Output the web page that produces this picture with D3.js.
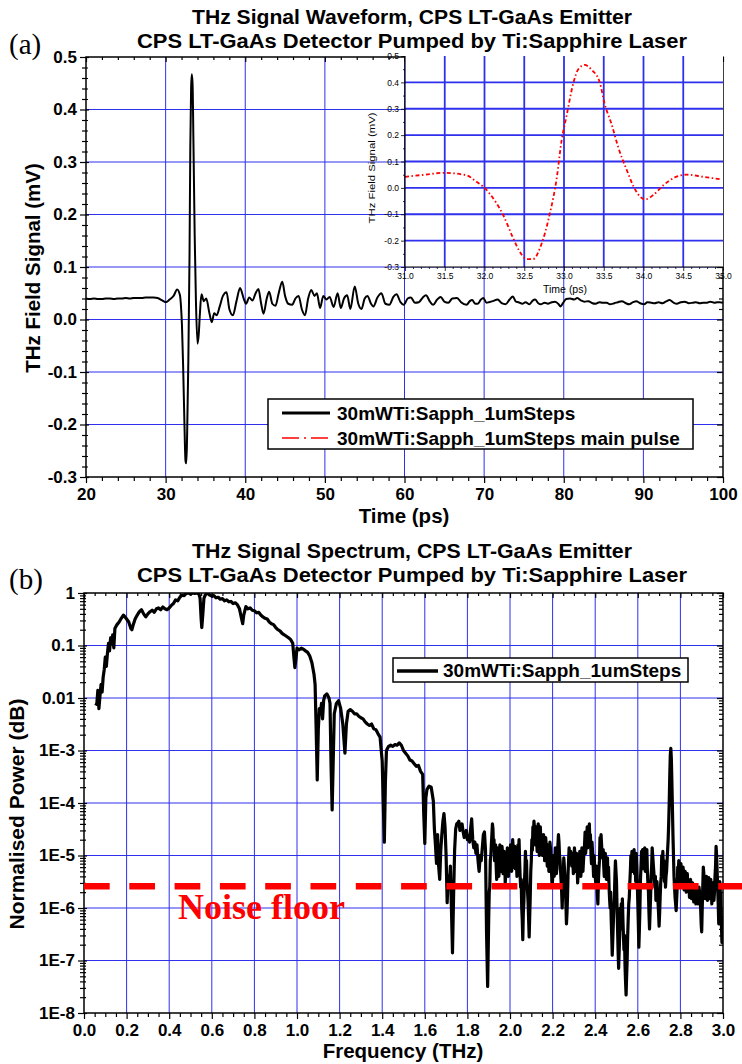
<!DOCTYPE html>
<html>
<head>
<meta charset="utf-8">
<script src="https://cdn.jsdelivr.net/npm/d3@7"></script>
<style>
  html, body { margin: 0; padding: 0; background: #fff; }
  svg { display: block; }
  text { font-family: "Liberation Sans", Arial, sans-serif; }
</style>
</head>
<body>
<svg id="chart" width="742" height="1064"></svg>
<script>
// ---------- Panel (a): time-domain waveform ----------
const waveTime = [
  20.0, 20.5, 21.0, 21.5, 22.0, 22.5, 23.0, 23.5, 24.0, 24.5, 25.0, 25.5, 26.0, 26.5, 27.0, 27.5,
  28.0, 28.5, 29.0, 29.5, 30.0, 30.5, 31.0, 31.45, 31.8, 31.95, 32.05, 32.2, 32.35, 32.5, 32.6,
  32.7, 32.85, 33.0, 33.1, 33.2, 33.28, 33.38, 33.5, 33.65, 33.8, 34.0, 34.15, 34.3, 34.5, 34.8,
  35.1, 35.5, 35.8, 36.1, 36.4, 36.8, 37.2, 37.65, 38.0, 38.45, 38.9, 39.35, 39.8, 40.1, 40.5,
  40.9, 41.3, 41.65, 42.0, 42.3, 42.7, 43.0, 43.4, 43.8, 44.2, 44.65, 45.0, 45.4, 45.9, 46.3,
  46.7, 47.1, 47.5, 47.9, 48.3, 48.7, 49.0, 49.4, 49.8, 50.2, 50.6, 51.1, 51.6, 52.0, 52.4,
  52.8, 53.2, 53.75, 54.2, 54.6, 55.0, 55.35, 55.8, 56.1, 56.6, 57.1, 57.6, 58.1, 58.6, 59.0,
  59.5, 59.9, 60.4, 60.8, 61.3, 61.8, 62.3, 62.7, 63.2, 63.6, 64.1, 64.55, 65.0, 65.5, 66.0,
  66.6, 67.1, 67.8, 68.2, 68.5, 68.9, 69.2, 69.6, 69.9, 70.3, 70.6, 71.1, 71.7, 72.2, 72.7,
  73.2, 73.6, 74.0, 74.3, 74.8, 75.2, 75.7, 76.1, 76.4, 76.8, 77.1, 77.6, 78.0, 78.5, 78.9,
  79.3, 79.6, 79.9, 80.3, 80.8, 81.3, 81.7, 82.2, 82.6, 83.1, 83.6, 84.0, 84.5, 84.9, 85.4,
  85.8, 86.35, 86.8, 87.3, 87.8, 88.2, 88.7, 89.1, 89.6, 90.1, 90.5, 91.0, 91.4, 91.9, 92.4,
  92.8, 93.3, 93.8, 94.2, 94.7, 95.2, 95.7, 96.2, 96.6, 97.1, 97.5, 98.0, 98.4, 98.9, 99.3,
  99.6, 100.0
];
const waveSignal = [
  0.040, 0.039, 0.040, 0.039, 0.039, 0.040, 0.040, 0.039, 0.040, 0.040, 0.041, 0.040, 0.041, 0.041, 0.041, 0.042,
  0.042, 0.042, 0.041, 0.037, 0.033, 0.038, 0.045, 0.057, 0.046, 0.020, -0.010, -0.090, -0.190, -0.270, -0.274,
  -0.220, -0.080, 0.120, 0.330, 0.440, 0.467, 0.450, 0.330, 0.160, 0.040, -0.046, -0.030, 0.010, 0.048, 0.035,
  0.040, 0.012, -0.005, 0.012, 0.008, 0.025, 0.045, 0.052, 0.020, 0.008, 0.035, 0.060, 0.040, 0.030, 0.042,
  0.036, 0.050, 0.058, 0.030, 0.011, 0.040, 0.053, 0.030, 0.026, 0.050, 0.072, 0.045, 0.030, 0.028, 0.040,
  0.045, 0.020, 0.008, 0.040, 0.056, 0.045, 0.050, 0.022, 0.045, 0.038, 0.043, 0.024, 0.050, 0.022, 0.040,
  0.046, 0.020, 0.063, 0.030, 0.020, 0.040, 0.045, 0.030, 0.025, 0.042, 0.050, 0.030, 0.028, 0.043, 0.048,
  0.033, 0.028, 0.040, 0.042, 0.032, 0.033, 0.042, 0.046, 0.034, 0.028, 0.038, 0.043, 0.034, 0.032, 0.040,
  0.041, 0.033, 0.028, 0.035, 0.037, 0.030, 0.030, 0.038, 0.041, 0.032, 0.033, 0.035, 0.038, 0.031, 0.029,
  0.038, 0.044, 0.034, 0.033, 0.030, 0.033, 0.029, 0.036, 0.038, 0.031, 0.029, 0.032, 0.030, 0.033, 0.034,
  0.030, 0.025, 0.031, 0.039, 0.040, 0.038, 0.041, 0.036, 0.034, 0.035, 0.031, 0.030, 0.033, 0.032, 0.032,
  0.029, 0.031, 0.033, 0.035, 0.031, 0.029, 0.033, 0.035, 0.031, 0.029, 0.033, 0.032, 0.031, 0.033, 0.031,
  0.034, 0.037, 0.032, 0.030, 0.033, 0.034, 0.031, 0.032, 0.033, 0.031, 0.032, 0.032, 0.034, 0.032, 0.033,
  0.033, 0.032
];

// main pulse, shown in the inset
const pulseTime = [
  31.0, 31.25, 31.48, 31.77, 31.9, 32.0, 32.06, 32.23, 32.36, 32.44, 32.53, 32.61, 32.72, 32.82,
  32.91, 32.97, 33.03, 33.12, 33.18, 33.26, 33.35, 33.45, 33.51, 33.6, 33.68, 33.79, 33.9, 34.02,
  34.12, 34.25, 34.41, 34.54, 34.75, 34.98
];
const pulseSignal = [
  0.042, 0.050, 0.057, 0.048, 0.023, 0.000, -0.020, -0.100, -0.190, -0.240, -0.270, -0.270, -0.210, -0.100,
  0.040, 0.180, 0.270, 0.400, 0.450, 0.466, 0.447, 0.400, 0.320, 0.240, 0.156, 0.067, -0.009, -0.044,
  -0.028, 0.010, 0.042, 0.050, 0.042, 0.032
];

const timeTicks = [20, 30, 40, 50, 60, 70, 80, 90, 100];
const signalTicks = [-0.3, -0.2, -0.1, 0.0, 0.1, 0.2, 0.3, 0.4, 0.5];
const pulseTimeTicks = [31.0, 31.5, 32.0, 32.5, 33.0, 33.5, 34.0, 34.5, 35.0];
const legendA = ["30mWTi:Sapph_1umSteps", "30mWTi:Sapph_1umSteps main pulse"];
const titleA = ["THz Signal Waveform, CPS LT-GaAs Emitter", "CPS LT-GaAs Detector Pumped by Ti:Sapphire Laser"];

// ---------- Panel (b): normalised power spectrum ----------
const freq = [
  0.052, 0.06, 0.065, 0.07, 0.075, 0.08, 0.085, 0.09,
  0.095, 0.1, 0.105, 0.11, 0.115, 0.12, 0.125, 0.13,
  0.135, 0.14, 0.145, 0.155, 0.165, 0.175, 0.185, 0.195,
  0.2, 0.21, 0.22, 0.225, 0.23, 0.24, 0.25, 0.26,
  0.27, 0.28, 0.29, 0.3, 0.31, 0.32, 0.33, 0.34,
  0.35, 0.36, 0.37, 0.38, 0.39, 0.4, 0.41, 0.42,
  0.43, 0.44, 0.45, 0.46, 0.47, 0.48, 0.49, 0.5,
  0.51, 0.52, 0.53, 0.54, 0.545, 0.55, 0.553, 0.558,
  0.563, 0.57, 0.58, 0.59, 0.6, 0.61, 0.62, 0.63,
  0.64, 0.65, 0.66, 0.67, 0.68, 0.69, 0.7, 0.71,
  0.72, 0.73, 0.74, 0.745, 0.75, 0.76, 0.77, 0.78,
  0.79, 0.8, 0.81, 0.82, 0.83, 0.84, 0.85, 0.86,
  0.87, 0.88, 0.89, 0.9, 0.91, 0.92, 0.93, 0.94,
  0.95, 0.96, 0.97, 0.98, 0.985, 0.99, 0.995, 1.0,
  1.01, 1.02, 1.03, 1.04, 1.05, 1.06, 1.07, 1.08,
  1.085, 1.09, 1.095, 1.1, 1.105, 1.11, 1.115, 1.12,
  1.125, 1.13, 1.14, 1.15, 1.155, 1.16, 1.165, 1.17,
  1.175, 1.185, 1.195, 1.205, 1.215, 1.225, 1.232, 1.24,
  1.25, 1.26, 1.27, 1.28, 1.29, 1.3, 1.31, 1.32,
  1.33, 1.34, 1.35, 1.36, 1.37, 1.38, 1.39, 1.4,
  1.405, 1.41, 1.415, 1.42, 1.43, 1.44, 1.45, 1.46,
  1.47, 1.48, 1.49, 1.5, 1.51, 1.52, 1.53, 1.54,
  1.55, 1.56, 1.57, 1.58, 1.59, 1.595, 1.6, 1.605,
  1.61, 1.62, 1.63, 1.64, 1.645, 1.65, 1.655, 1.66,
  1.665, 1.67, 1.675, 1.68, 1.685, 1.69, 1.695, 1.7,
  1.705, 1.71, 1.715, 1.72, 1.725, 1.73, 1.735, 1.74,
  1.745, 1.75, 1.755, 1.76, 1.765, 1.77, 1.775, 1.78,
  1.785, 1.79, 1.795, 1.8, 1.805, 1.81, 1.815, 1.82,
  1.825, 1.83, 1.835, 1.84, 1.845, 1.85, 1.855, 1.86,
  1.865, 1.87, 1.875, 1.88, 1.885, 1.89, 1.895,
  1.9, 1.9025, 1.905, 1.9075, 1.91, 1.9125, 1.915, 1.9175,
  1.92, 1.9225, 1.925, 1.9275, 1.93, 1.9325, 1.935, 1.9375,
  1.94, 1.9425, 1.945, 1.9475, 1.95, 1.9525, 1.955, 1.9575,
  1.96, 1.9625, 1.965, 1.9675, 1.97, 1.9725, 1.975, 1.9775,
  1.98, 1.9825, 1.985, 1.9875, 1.99, 1.9925, 1.995, 1.9975,
  2.0, 2.0025, 2.005, 2.0075, 2.01, 2.0125, 2.015, 2.0175,
  2.02, 2.0225, 2.025, 2.0275, 2.03, 2.0325, 2.035, 2.0375,
  2.04, 2.0425, 2.045, 2.0475, 2.05, 2.0525, 2.055, 2.0575,
  2.06, 2.0625, 2.065, 2.0675, 2.07, 2.0725, 2.075, 2.0775,
  2.08, 2.0825, 2.085, 2.0875, 2.09, 2.0925, 2.095, 2.0975,
  2.1, 2.1025, 2.105, 2.1075, 2.11, 2.1125, 2.115, 2.1175,
  2.12, 2.1225, 2.125, 2.1275, 2.13, 2.1325, 2.135, 2.1375,
  2.14, 2.1425, 2.145, 2.1475, 2.15, 2.1525, 2.155, 2.1575,
  2.16, 2.1625, 2.165, 2.1675, 2.17, 2.1725, 2.175, 2.1775,
  2.18, 2.1825, 2.185, 2.1875, 2.19, 2.1925, 2.195, 2.1975,
  2.2, 2.2025, 2.205, 2.2075, 2.21, 2.2125, 2.215, 2.2175,
  2.22, 2.2225, 2.225, 2.2275, 2.23, 2.2325, 2.235, 2.2375,
  2.24, 2.2425, 2.245, 2.2475, 2.25, 2.2525, 2.255, 2.2575,
  2.26, 2.2625, 2.265, 2.2675, 2.27, 2.2725, 2.275, 2.2775,
  2.28, 2.285, 2.29, 2.2925, 2.295, 2.2975, 2.3, 2.3025,
  2.305, 2.3075, 2.31, 2.3125, 2.315, 2.3175, 2.32, 2.3225,
  2.325, 2.3275, 2.33, 2.3325, 2.335, 2.3375, 2.34, 2.3425,
  2.345, 2.3475, 2.35, 2.3525, 2.355, 2.3575, 2.36, 2.3625,
  2.365, 2.3675, 2.37, 2.3725, 2.375, 2.3775, 2.38, 2.3825,
  2.385, 2.3875, 2.39, 2.3925, 2.395, 2.3975, 2.4, 2.4025,
  2.405, 2.4075, 2.41, 2.4125, 2.415, 2.4175, 2.42, 2.4225,
  2.425, 2.4275, 2.43, 2.4325, 2.435, 2.4375, 2.44, 2.4425,
  2.445, 2.4475, 2.45, 2.4525, 2.455, 2.4575, 2.46, 2.4625,
  2.465, 2.4675, 2.47, 2.4725, 2.475, 2.4775, 2.48, 2.4825,
  2.485, 2.4875, 2.49, 2.4925, 2.495, 2.4975, 2.5, 2.5025,
  2.505, 2.5075, 2.51, 2.5125, 2.515, 2.5175, 2.52, 2.5225,
  2.525, 2.5275, 2.53, 2.5325, 2.535, 2.5375, 2.54, 2.5425,
  2.545, 2.5475, 2.55, 2.5525, 2.555, 2.5575, 2.56, 2.5625,
  2.565, 2.5675, 2.57, 2.5725, 2.575, 2.5775, 2.58, 2.5825,
  2.585, 2.5875, 2.59, 2.5925, 2.595, 2.5975, 2.6, 2.6025,
  2.605, 2.6075, 2.61, 2.6125, 2.615, 2.6175, 2.62, 2.6225,
  2.625, 2.6275, 2.63, 2.6325, 2.635, 2.6375, 2.64, 2.6425,
  2.645, 2.6475, 2.65, 2.6525, 2.655, 2.6575, 2.66, 2.6625,
  2.665, 2.6675, 2.67, 2.6725, 2.675, 2.6775, 2.68, 2.6825,
  2.685, 2.6875, 2.69, 2.6925, 2.695, 2.6975, 2.7, 2.7025,
  2.705, 2.7075, 2.71, 2.7125, 2.715, 2.7175, 2.72, 2.7225,
  2.725, 2.7275, 2.73, 2.7325, 2.735, 2.7375, 2.74, 2.7425,
  2.745, 2.7475, 2.75, 2.7525, 2.755, 2.7575, 2.76, 2.7625,
  2.765, 2.7675, 2.77, 2.7725, 2.775, 2.7775, 2.78, 2.7825,
  2.785, 2.7875, 2.79, 2.7925, 2.795, 2.7975, 2.8, 2.8025,
  2.805, 2.8075, 2.81, 2.8125, 2.815, 2.8175, 2.82, 2.8225,
  2.825, 2.8275, 2.83, 2.8325, 2.835, 2.8375, 2.84, 2.8425,
  2.845, 2.8475, 2.85, 2.8525, 2.855, 2.8575, 2.86, 2.8625,
  2.865, 2.8675, 2.87, 2.8725, 2.875, 2.8775, 2.88, 2.8825,
  2.885, 2.8875, 2.89, 2.8925, 2.895, 2.8975, 2.9, 2.9025,
  2.905, 2.9075, 2.91, 2.9125, 2.915, 2.9175, 2.92, 2.9225,
  2.925, 2.9275, 2.93, 2.9325, 2.935, 2.9375, 2.94, 2.9425,
  2.945, 2.9475, 2.95, 2.9525, 2.955, 2.9575, 2.96, 2.9625,
  2.965, 2.9675, 2.97, 2.9725, 2.975, 2.9775, 2.98, 2.9825,
  2.985, 2.9875, 2.99, 2.9925, 2.995, 2.9975, 3.0
];
const power = [
  7.9e-3, 7.6e-3, 1.4e-2, 6.3e-3, 1.1e-2, 1.8e-2, 1.3e-2, 2.5e-2,
  3.5e-2, 6.0e-2, 4.0e-2, 7.1e-2, 0.11, 0.079, 0.14, 0.11,
  0.16, 0.09, 0.21, 0.25, 0.28, 0.33, 0.38, 0.34,
  0.32, 0.28, 0.21, 0.20, 0.24, 0.32, 0.38, 0.44,
  0.48, 0.40, 0.35, 0.40, 0.44, 0.47, 0.43, 0.50,
  0.52, 0.48, 0.54, 0.50, 0.48, 0.52, 0.58, 0.63,
  0.74, 0.71, 0.83, 0.91, 0.89, 0.98, 1.0, 0.95,
  1.0, 0.98, 1.0, 0.95, 0.79, 0.32, 0.22, 0.40,
  0.79, 0.93, 1.0, 0.91, 0.87, 0.89, 0.81, 0.83,
  0.76, 0.78, 0.71, 0.74, 0.68, 0.69, 0.63, 0.65,
  0.60, 0.50, 0.32, 0.26, 0.38, 0.55, 0.50, 0.52,
  0.47, 0.46, 0.42, 0.43, 0.38, 0.35, 0.33, 0.32,
  0.28, 0.26, 0.25, 0.22, 0.20, 0.19, 0.17, 0.16,
  0.15, 0.14, 0.13, 0.11, 0.063, 0.038, 0.056, 0.089,
  0.083, 0.089, 0.085, 0.079, 0.074, 0.063, 0.047, 0.028,
  0.018, 2.5e-3, 2.75e-4, 2.5e-3, 6.3e-3, 5.0e-3, 7.9e-3, 4.0e-3,
  8.9e-3, 0.011, 0.012, 0.010, 7.9e-3, 5.0e-4, 7.4e-5, 6.3e-4,
  5.0e-3, 7.9e-3, 8.9e-3, 6.3e-3, 3.2e-3, 8.9e-4, 3.2e-3, 5.6e-3,
  6.0e-3, 5.6e-3, 5.0e-3, 5.0e-3, 4.5e-3, 4.2e-3, 4.0e-3, 3.5e-3,
  3.2e-3, 3.0e-3, 3.2e-3, 2.6e-3, 2.5e-3, 2.1e-3, 1.8e-3, 6.3e-4,
  1.0e-4, 1.8e-5, 2.5e-4, 1.0e-3, 1.2e-3, 1.26e-3, 1.2e-3, 1.3e-3,
  1.26e-3, 1.4e-3, 1.26e-3, 1.0e-3, 8.9e-4, 7.9e-4, 6.6e-4, 6.3e-4,
  5.6e-4, 5.0e-4, 5.2e-4, 4.0e-4, 3.5e-4, 6.3e-5, 1.7e-5, 1.26e-4,
  1.8e-4, 2.1e-4, 2.0e-4, 1.1e-4, 3.2e-5, 1.6e-5, 7.1e-6, 2.5e-5,
  6.3e-6, 3.5e-6, 1.26e-5, 2.5e-5, 4.5e-5, 6.3e-5, 3.5e-5, 1.0e-5,
  1.26e-6, 4.0e-6, 2.5e-6, 6.3e-6, 1.0e-6, 1.4e-7, 1.6e-6, 1.26e-5,
  3.2e-5, 4.0e-5, 4.2e-5, 4.5e-5, 3.0e-5, 3.5e-5, 4.0e-5, 2.8e-5,
  2.2e-5, 2.5e-5, 3.0e-5, 2.0e-5, 2.4e-5, 1.8e-5, 3.2e-5, 5.0e-5,
  2.0e-5, 1.4e-5, 1.8e-5, 1.1e-5, 1.6e-5, 7.9e-6, 5.0e-6, 1.0e-5,
  8.0e-6, 1.4e-5, 2.5e-5, 2.8e-5, 1.26e-5, 3.2e-7, 3.2e-8,
  6.3e-7, 2.0e-6, 2.5e-6, 8.0e-6, 1.0e-5, 1.6e-5, 2.5e-5, 4.0e-5,
  3.2e-5, 1.4e-5, 2.0e-5, 8.0e-6, 1.0e-5, 1.6e-5, 6.3e-6, 3.5e-6,
  5.0e-6, 1.4e-5, 1.0e-5, 4.0e-6, 5.6e-6, 1.6e-5, 1.1e-5, 5.0e-6,
  7.9e-6, 1.5e-5, 1.1e-5, 4.5e-6, 6.3e-6, 1.2e-5, 8.9e-6, 3.0e-6,
  4.5e-6, 9.0e-6, 6.3e-6, 1.4e-5, 1.0e-5, 4.0e-6, 5.6e-6, 1.2e-5,
  7.9e-6, 1.6e-5, 1.1e-5, 5.0e-6, 6.3e-6, 2.0e-5, 1.4e-5, 6.0e-6,
  8.9e-6, 1.5e-5, 5.6e-6, 1.2e-5, 8.9e-6, 4.0e-6, 6.3e-6, 1.6e-5,
  1.0e-5, 2.0e-5, 7.9e-6, 4.0e-6, 2.5e-6, 3.5e-6, 1.0e-6, 6.0e-7,
  2.5e-7, 8.0e-7, 1.26e-6, 3.0e-6, 5.0e-6, 1.2e-5, 6.3e-6, 8.0e-6,
  3.2e-6, 2.0e-6, 1.26e-6, 6.0e-7, 2.8e-7, 7.0e-7, 1.6e-6, 5.0e-6,
  7.9e-6, 2.0e-5, 1.26e-5, 3.5e-5, 2.5e-5, 4.5e-5, 3.2e-5, 1.6e-5,
  2.5e-5, 3.5e-5, 2.0e-5, 1.2e-5, 2.8e-5, 4.0e-5, 1.8e-5, 1.0e-5,
  2.5e-5, 3.5e-5, 1.6e-5, 2.5e-5, 2.2e-5, 1.0e-5, 1.26e-5, 2.5e-5,
  1.8e-5, 8.0e-6, 1.0e-5, 2.2e-5, 1.6e-5, 9.0e-6, 6.3e-6, 1.6e-5,
  1.26e-5, 5.0e-6, 7.9e-6, 1.8e-5, 1.4e-5, 8.0e-6, 5.0e-6, 2.5e-6,
  3.5e-6, 1.0e-5, 7.9e-6, 4.0e-6, 6.3e-6, 1.4e-5, 1.1e-5, 4.5e-6,
  5.6e-6, 1.2e-5, 1.6e-5, 2.5e-5, 1.8e-5, 1.0e-5, 7.9e-6, 5.0e-6,
  3.2e-6, 2.0e-6, 1.0e-6, 2.2e-6, 4.0e-6, 9.0e-6, 6.3e-6, 4.0e-6,
  2.5e-6, 1.2e-6, 5.0e-7, 8.0e-7, 1.6e-6, 4.5e-6, 7.9e-6, 1.4e-5,
  8.9e-6, 1.2e-5, 6.3e-6, 1.1e-5, 7.9e-6, 4.5e-6, 7.1e-6, 1.4e-5,
  1.0e-5, 6.0e-6, 5.0e-6, 1.1e-5, 7.1e-6, 3.0e-6, 4.5e-6, 9.0e-6,
  6.3e-6, 1.2e-5, 7.9e-6, 4.0e-6, 5.6e-6, 1.4e-5, 1.0e-5, 5.0e-6,
  7.9e-6, 1.2e-5, 1.6e-5, 2.8e-5, 1.1e-5, 1.6e-5, 2.0e-5, 3.5e-5,
  1.4e-5, 2.0e-5, 2.5e-5, 4.0e-5, 1.6e-5, 2.5e-5, 1.1e-5, 7.0e-6,
  1.8e-5, 1.2e-5, 7.1e-6, 4.0e-6, 1.0e-5, 6.0e-6, 4.0e-6, 3.0e-6,
  6.3e-6, 3.5e-6, 1.8e-6, 1.2e-6, 3.2e-6, 5.5e-6, 7.9e-6, 2.2e-5,
  1.4e-5, 2.5e-5, 1.6e-5, 1.0e-5, 8.9e-6, 1.3e-5, 6.3e-6, 4.0e-6,
  7.9e-6, 1.1e-5, 5.0e-6, 3.5e-6, 6.3e-6, 9.0e-6, 4.0e-6, 6.0e-6,
  2.5e-6, 1.5e-6, 1.0e-6, 2.0e-6, 6.3e-7, 3.0e-7, 1.26e-7, 2.5e-7,
  5.0e-7, 1.0e-6, 1.6e-6, 4.0e-6, 7.9e-6, 5.0e-6, 3.2e-6, 1.0e-6,
  4.0e-7, 1.5e-7, 7.1e-8, 1.5e-7, 3.2e-7, 1.0e-6, 6.3e-7, 1.2e-6,
  4.0e-7, 1.5e-6, 6.3e-7, 3.0e-7, 1.6e-7, 3.0e-7, 7.9e-8, 4.0e-8,
  2.2e-8, 5.0e-8, 1.0e-7, 3.0e-7, 6.3e-7, 1.2e-6, 1.6e-6, 3.0e-6,
  5.0e-6, 1.0e-5, 7.1e-6, 1.2e-5, 5.0e-6, 1.0e-5, 7.9e-6, 1.3e-5,
  4.5e-6, 8.0e-6, 3.2e-6, 1.1e-5, 6.3e-6, 3.0e-6, 1.26e-6, 5.0e-7,
  1.8e-7, 4.0e-7, 1.0e-6, 3.5e-6, 6.3e-6, 1.2e-5, 7.9e-6, 1.3e-5,
  5.6e-6, 1.0e-5, 7.9e-6, 1.4e-5, 5.0e-6, 1.1e-5, 8.9e-6, 1.3e-5,
  5.0e-6, 3.0e-6, 2.0e-6, 8.0e-7, 4.0e-7, 8.0e-7, 1.6e-6, 4.0e-6,
  6.3e-6, 1.4e-5, 1.0e-5, 7.0e-6, 5.0e-6, 3.5e-6, 2.5e-6, 4.0e-6,
  1.4e-6, 2.5e-6, 3.2e-6, 2.0e-6, 1.26e-6, 8.0e-7, 4.5e-7, 8.0e-7,
  1.6e-6, 3.0e-6, 4.0e-6, 1.0e-5, 6.3e-6, 1.2e-5, 5.6e-6, 8.0e-6,
  3.2e-6, 5.0e-6, 2.5e-6, 4.0e-6, 5.0e-6, 8.0e-6, 1.26e-5, 2.0e-5,
  4.0e-5, 1.0e-4, 3.2e-4, 8.0e-4, 1.1e-3, 7.0e-4, 2.5e-4, 8.0e-5,
  2.5e-5, 1.0e-5, 4.0e-6, 2.5e-6, 1.6e-6, 1.2e-6, 8.9e-7, 1.5e-6,
  2.5e-6, 6.0e-6, 5.0e-6, 8.0e-6, 5.6e-6, 3.0e-6, 4.0e-6, 7.0e-6,
  5.0e-6, 2.5e-6, 3.2e-6, 6.0e-6, 4.5e-6, 2.2e-6, 2.8e-6, 5.0e-6,
  4.0e-6, 2.0e-6, 3.5e-6, 4.5e-6, 2.2e-6, 3.0e-6, 3.2e-6, 1.6e-6,
  2.0e-6, 3.5e-6, 2.8e-6, 1.5e-6, 1.8e-6, 3.0e-6, 2.5e-6, 1.3e-6,
  1.6e-6, 2.8e-6, 2.0e-6, 1.2e-6, 1.4e-6, 2.5e-6, 1.8e-6, 1.2e-6,
  1.6e-6, 2.5e-6, 2.0e-6, 1.4e-6, 1.0e-6, 5.0e-7, 3.5e-7, 1.0e-6,
  2.5e-6, 6.0e-6, 4.5e-6, 2.5e-6, 3.2e-6, 1.5e-6, 2.0e-6, 4.0e-6,
  2.8e-6, 1.4e-6, 2.0e-6, 3.8e-6, 3.2e-6, 1.5e-6, 1.8e-6, 3.5e-6,
  2.5e-6, 1.2e-6, 1.6e-6, 3.0e-6, 2.5e-6, 1.4e-6, 2.0e-6, 4.0e-6,
  6.3e-6, 1.5e-5, 1.0e-5, 5.0e-6, 2.5e-6, 1.2e-6, 5.0e-7, 1.2e-6,
  3.2e-6, 2.0e-6, 1.0e-6, 5.0e-7, 2.2e-7, 6.0e-7, 2.5e-7
];
const noiseFloor = 2.6e-6;

const freqTicks = [0.0, 0.2, 0.4, 0.6, 0.8, 1.0, 1.2, 1.4, 1.6, 1.8, 2.0, 2.2, 2.4, 2.6, 2.8, 3.0];
const powerTicks = [1e-8, 1e-7, 1e-6, 1e-5, 1e-4, 1e-3, 1e-2, 1e-1, 1];
const powerTickLabels = ["1E-8", "1E-7", "1E-6", "1E-5", "1E-4", "1E-3", "0.01", "0.1", "1"];
const legendB = ["30mWTi:Sapph_1umSteps"];
const titleB = ["THz Signal Spectrum, CPS LT-GaAs Emitter", "CPS LT-GaAs Detector Pumped by Ti:Sapphire Laser"];

// ---------- drawing ----------
const svg = d3.select("#chart");
svg.append("rect").attr("width", 742).attr("height", 1064).attr("fill", "#fff");

const GRID = "#2f2fee";
const TICK_FONT = "bold 17px 'Liberation Sans', Arial, sans-serif";

function styleAxis(sel, font) {
  sel.attr("font-size", null).attr("font-family", null);
  sel.select(".domain").remove();
  sel.selectAll(".tick line").attr("stroke", "#000").attr("stroke-width", 1.2);
  sel.selectAll(".tick text").style("font", font || TICK_FONT).attr("fill", "#000");
}

// frame + ticks on all four sides
function frame(g, x, y, o) {
  const [xl, xr] = x.range();
  const [yb, yt] = y.range();
  g.append("g").attr("transform", `translate(0,${yb})`)
    .call(d3.axisBottom(x).tickValues(o.xMajor).tickSize(6).tickPadding(o.xPad).tickFormat(o.xFmt))
    .call(s => styleAxis(s));
  g.append("g").attr("transform", `translate(0,${yb})`)
    .call(d3.axisBottom(x).tickValues(o.xMinor).tickSize(4).tickFormat(""))
    .call(s => styleAxis(s));
  g.append("g").attr("transform", `translate(0,${yt})`)
    .call(d3.axisBottom(x).tickValues(o.xMajor).tickSize(5).tickFormat(""))
    .call(s => styleAxis(s));
  g.append("g").attr("transform", `translate(0,${yt})`)
    .call(d3.axisBottom(x).tickValues(o.xMinor).tickSize(3).tickFormat(""))
    .call(s => styleAxis(s));
  g.append("g").attr("transform", `translate(${xl},0)`)
    .call(d3.axisLeft(y).tickValues(o.yMajor).tickSize(6).tickPadding(o.yPad).tickFormat(o.yFmt))
    .call(s => styleAxis(s));
  g.append("g").attr("transform", `translate(${xl},0)`)
    .call(d3.axisLeft(y).tickValues(o.yMinor).tickSize(4).tickFormat(""))
    .call(s => styleAxis(s));
  g.append("g").attr("transform", `translate(${xl},0)`)
    .call(d3.axisRight(y).tickValues(o.yMajor).tickSize(3).tickFormat(""))
    .call(s => styleAxis(s));
  g.append("g").attr("transform", `translate(${xl},0)`)
    .call(d3.axisRight(y).tickValues(o.yMinor).tickSize(2).tickFormat(""))
    .call(s => styleAxis(s));
  g.append("g").attr("transform", `translate(${xr},0)`)
    .call(d3.axisLeft(y).tickValues(o.yMajor).tickSize(6).tickFormat(""))
    .call(s => styleAxis(s));
  g.append("g").attr("transform", `translate(${xr},0)`)
    .call(d3.axisLeft(y).tickValues(o.yMinor).tickSize(4).tickFormat(""))
    .call(s => styleAxis(s));
  g.append("rect").attr("x", xl).attr("y", yt).attr("width", xr - xl).attr("height", yb - yt)
    .attr("fill", "none").attr("stroke", "#000").attr("stroke-width", 1.5);
}

function title(lines, y0, widths) {
  lines.forEach((t, i) => {
    svg.append("text").attr("x", 412).attr("y", y0 + i * 24)
      .attr("text-anchor", "middle").attr("textLength", widths[i]).attr("lengthAdjust", "spacingAndGlyphs")
      .style("font", "bold 19.5px 'Liberation Sans', Arial, sans-serif").text(t);
  });
}

// ===== Panel (a) =====
const xA = d3.scaleLinear().domain([20, 100]).range([86, 723]);
const yA = d3.scaleLinear().domain([-0.3, 0.5]).range([477, 57]);
const gA = svg.append("g");

gA.append("g").selectAll("line").data(timeTicks.slice(1, -1)).join("line")
  .attr("x1", d => xA(d)).attr("x2", d => xA(d)).attr("y1", yA(-0.3)).attr("y2", yA(0.5))
  .attr("stroke", GRID).attr("stroke-width", 1);
gA.append("g").selectAll("line").data(signalTicks.slice(1, -1)).join("line")
  .attr("y1", d => yA(d)).attr("y2", d => yA(d)).attr("x1", xA(20)).attr("x2", xA(100))
  .attr("stroke", GRID).attr("stroke-width", 1);

const waveLine = d3.line().x(i => xA(waveTime[i])).y(i => yA(waveSignal[i])).curve(d3.curveMonotoneX);
gA.append("path").attr("d", waveLine(d3.range(waveTime.length)))
  .attr("fill", "none").attr("stroke", "#000").attr("stroke-width", 2).attr("stroke-linejoin", "round");

const minorA = [];
for (let t = 20; t <= 100; t += 2) if (t % 10 !== 0) minorA.push(t);
const minorAy = [];
for (let k = -15; k <= 25; k++) if (k % 5 !== 0) minorAy.push(k * 0.02);

frame(gA, xA, yA, {
  xMajor: timeTicks, xMinor: minorA, xFmt: d => String(d), xPad: 5,
  yMajor: signalTicks, yMinor: minorAy, yFmt: d => d.toFixed(1), yPad: 3
});

// --- inset: main pulse ---
const xI = d3.scaleLinear().domain([31, 35]).range([405, 723]);
const yI = d3.scaleLinear().domain([-0.3, 0.5]).range([267, 56]);
const gI = svg.append("g");
gI.append("rect").attr("x", 405).attr("y", 56).attr("width", 318).attr("height", 211).attr("fill", "#fff");
gI.append("g").selectAll("line").data(pulseTimeTicks.slice(1, -1)).join("line")
  .attr("x1", d => xI(d)).attr("x2", d => xI(d)).attr("y1", yI(-0.3)).attr("y2", yI(0.5))
  .attr("stroke", GRID).attr("stroke-width", 1.8);
gI.append("g").selectAll("line").data(signalTicks.slice(1, -1)).join("line")
  .attr("y1", d => yI(d)).attr("y2", d => yI(d)).attr("x1", xI(31)).attr("x2", xI(35))
  .attr("stroke", GRID).attr("stroke-width", 1.8);
const pulseLine = d3.line().x(i => xI(pulseTime[i])).y(i => yI(pulseSignal[i])).curve(d3.curveMonotoneX);
gI.append("path").attr("d", pulseLine(d3.range(pulseTime.length)))
  .attr("fill", "none").attr("stroke", "#ff0000").attr("stroke-width", 1.8)
  .attr("stroke-dasharray", "4,2.5,1.5,2.5");

const INSET_FONT = "8.5px 'Liberation Sans', Arial, sans-serif";
const insetMinorX = [];
for (let k = 310; k <= 350; k++) if (k % 5 !== 0) insetMinorX.push(k / 10);
const insetMinorY = [];
for (let k = -6; k <= 10; k++) if (k % 2 !== 0) insetMinorY.push(k * 0.05);
gI.append("g").attr("transform", "translate(0,267)")
  .call(d3.axisBottom(xI).tickValues(pulseTimeTicks).tickSize(4).tickPadding(2).tickFormat(d => d.toFixed(1)))
  .call(s => styleAxis(s, INSET_FONT));
gI.append("g").attr("transform", "translate(0,267)")
  .call(d3.axisBottom(xI).tickValues(insetMinorX).tickSize(2).tickFormat(""))
  .call(s => styleAxis(s));
gI.append("g").attr("transform", "translate(405,0)")
  .call(d3.axisLeft(yI).tickValues(signalTicks).tickSize(4).tickPadding(2).tickFormat(d => d.toFixed(1)))
  .call(s => styleAxis(s, INSET_FONT));
gI.append("g").attr("transform", "translate(405,0)")
  .call(d3.axisLeft(yI).tickValues(insetMinorY).tickSize(2).tickFormat(""))
  .call(s => styleAxis(s));
gI.selectAll(".tick line").attr("stroke-width", 0.8);
gI.append("path").attr("d", "M405,56V267H723").attr("fill", "none").attr("stroke", "#000").attr("stroke-width", 1.2);
gI.append("text").attr("transform", "translate(375,168) rotate(-90)").attr("text-anchor", "middle")
  .attr("textLength", 111).attr("lengthAdjust", "spacingAndGlyphs")
  .style("font", "9.5px 'Liberation Sans', Arial, sans-serif").text("THz Field Signal (mV)");
gI.append("text").attr("x", 565).attr("y", 293).attr("text-anchor", "middle")
  .style("font", "10.5px 'Liberation Sans', Arial, sans-serif").text("Time (ps)");

// legend (a)
const legA = svg.append("g");
legA.append("rect").attr("x", 268).attr("y", 399).attr("width", 425).attr("height", 50)
  .attr("fill", "#fff").attr("stroke", "#000").attr("stroke-width", 1.5);
legA.append("line").attr("x1", 282).attr("x2", 330).attr("y1", 413).attr("y2", 413)
  .attr("stroke", "#000").attr("stroke-width", 2.8);
legA.append("line").attr("x1", 282).attr("x2", 330).attr("y1", 438).attr("y2", 438)
  .attr("stroke", "#ff0000").attr("stroke-width", 1.6).attr("stroke-dasharray", "17,5,2,5");
legendA.forEach((t, i) => {
  legA.append("text").attr("x", 337).attr("y", 420 + i * 24.5)
    .style("font", "bold 19px 'Liberation Sans', Arial, sans-serif").text(t);
});

// axis titles (a)
svg.append("text").attr("transform", "translate(40,268) rotate(-90)").attr("text-anchor", "middle")
  .style("font", "bold 20.5px 'Liberation Sans', Arial, sans-serif").text("THz Field Signal (mV)");
svg.append("text").attr("x", 404).attr("y", 523).attr("text-anchor", "middle")
  .style("font", "bold 20.5px 'Liberation Sans', Arial, sans-serif").text("Time (ps)");
title(titleA, 24, [440, 550]);
svg.append("text").attr("x", 9).attr("y", 54)
  .style("font", "29px 'Liberation Serif', 'Times New Roman', serif").text("(a)");

// ===== Panel (b) =====
const xB = d3.scaleLinear().domain([0, 3]).range([84, 723]);
const yB = d3.scaleLog().domain([1e-8, 1]).range([1013, 593]);
const gB = svg.append("g");
gB.append("clipPath").attr("id", "clipB").append("rect")
  .attr("x", 84).attr("y", 593).attr("width", 639).attr("height", 420);

gB.append("g").selectAll("line").data(freqTicks.slice(1, -1)).join("line")
  .attr("x1", d => xB(d)).attr("x2", d => xB(d)).attr("y1", 1013).attr("y2", 593)
  .attr("stroke", GRID).attr("stroke-width", 1);
gB.append("g").selectAll("line").data(powerTicks.slice(1, -1)).join("line")
  .attr("y1", d => yB(d)).attr("y2", d => yB(d)).attr("x1", 84).attr("x2", 723)
  .attr("stroke", GRID).attr("stroke-width", 1);

const specLine = d3.line().x(i => xB(freq[i])).y(i => yB(power[i]));
gB.append("path").attr("d", specLine(d3.range(Math.min(freq.length, power.length)))).attr("clip-path", "url(#clipB)")
  .attr("fill", "none").attr("stroke", "#000").attr("stroke-width", 3.2).attr("stroke-linejoin", "round");

const minorBx = [];
for (let k = 0; k <= 60; k++) if (k % 4 !== 0) minorBx.push(k * 0.05);
const minorBy = [];
for (let e = -8; e < 0; e++) for (let m = 2; m <= 9; m++) minorBy.push(m * Math.pow(10, e));

frame(gB, xB, yB, {
  xMajor: freqTicks, xMinor: minorBx, xFmt: d => d.toFixed(1), xPad: 5,
  yMajor: powerTicks, yMinor: minorBy, yFmt: (d, i) => powerTickLabels[i], yPad: 3
});

// noise floor
svg.append("line").attr("x1", xB(0)).attr("x2", 742).attr("y1", yB(noiseFloor)).attr("y2", yB(noiseFloor))
  .attr("stroke", "#ff0000").attr("stroke-width", 6.5).attr("stroke-dasharray", "25.7,19.6");
svg.append("text").attr("x", 178).attr("y", 919).attr("fill", "#ff0000")
  .style("font", "bold 36px 'Liberation Serif', 'Times New Roman', serif").text("Noise floor");

// legend (b)
const legB = svg.append("g");
legB.append("rect").attr("x", 393).attr("y", 658).attr("width", 295).attr("height", 24)
  .attr("fill", "#fff").attr("stroke", "#000").attr("stroke-width", 1.5);
legB.append("line").attr("x1", 397).attr("x2", 438).attr("y1", 671).attr("y2", 671)
  .attr("stroke", "#000").attr("stroke-width", 3.5);
legB.append("text").attr("x", 443).attr("y", 677)
  .style("font", "bold 19px 'Liberation Sans', Arial, sans-serif").text(legendB[0]);

// axis titles (b)
svg.append("text").attr("transform", "translate(24,814) rotate(-90)").attr("text-anchor", "middle")
  .style("font", "bold 21px 'Liberation Sans', Arial, sans-serif").text("Normalised Power (dB)");
svg.append("text").attr("x", 403).attr("y", 1058).attr("text-anchor", "middle")
  .style("font", "bold 20.5px 'Liberation Sans', Arial, sans-serif").text("Frequency (THz)");
title(titleB, 558, [440, 550]);
svg.append("text").attr("x", 9).attr("y", 589)
  .style("font", "29px 'Liberation Serif', 'Times New Roman', serif").text("(b)");
</script>
</body>
</html>
